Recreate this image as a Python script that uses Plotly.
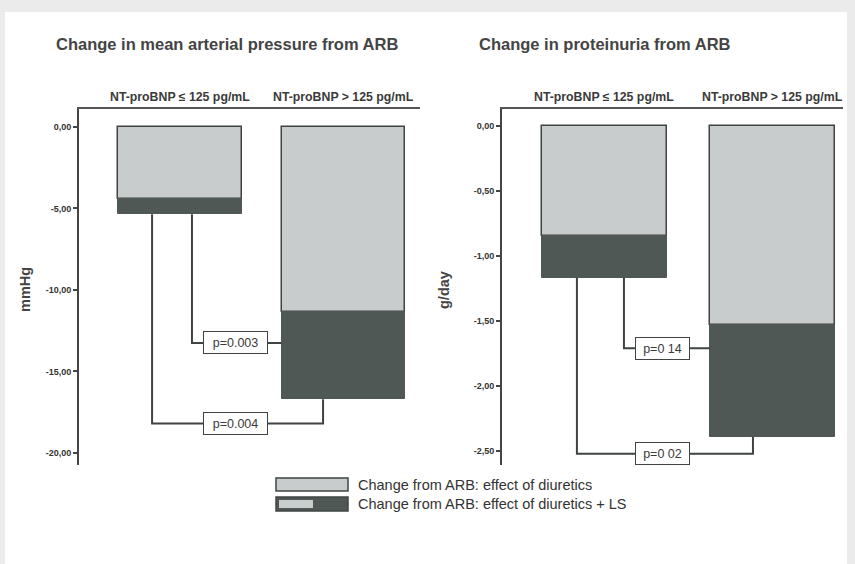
import plotly.graph_objects as go

# ---- data -------------------------------------------------------------
groups = ["NT-proBNP \u2264 125 pg/mL", "NT-proBNP > 125 pg/mL"]

# mean arterial pressure change (mmHg)
map_diuretics = [-4.40, -11.35]          # effect of diuretics
map_diuretics_ls = [-5.35, -16.70]       # effect of diuretics + LS
map_p = ["p=0.003", "p=0.004"]
map_bracket_levels = [-13.25, -18.20]
map_ticks = [0, -5, -10, -15, -20]
map_ticktext = ["0,00", "-5,00", "-10,00", "-15,00", "-20,00"]

# proteinuria change (g/day)
prot_diuretics = [-0.85, -1.53]
prot_diuretics_ls = [-1.17, -2.39]
prot_p = ["p=0 14", "p=0 02"]
prot_bracket_levels = [-1.71, -2.52]
prot_ticks = [0, -0.5, -1.0, -1.5, -2.0, -2.5]
prot_ticktext = ["0,00", "-0,50", "-1,00", "-1,50", "-2,00", "-2,50"]

legend_labels = ["Change from ARB: effect of diuretics",
                 "Change from ARB: effect of diuretics + LS"]

# ---- styling ----------------------------------------------------------
W, H = 855, 564
LIGHT = "#c9cccd"
DARK = "#4f5855"
EDGE = "#3f4443"
TXT = "#3a3a3a"
FONT = "Liberation Sans, Arial, sans-serif"
BAR_W = [0.758, 0.744]


def px(x):
    return x / W


def py(y):
    return 1 - y / H


fig = go.Figure()

panels = [
    dict(xa="x", ya="y", light=map_diuretics, total=map_diuretics_ls,
         p=map_p, lv=map_bracket_levels, bw=BAR_W[0],
         inner_x=0.073, outer_x=-0.171, box_x=0.339, end_x=0.875,
         box_w=59),
    dict(xa="x2", ya="y2", light=prot_diuretics, total=prot_diuretics_ls,
         p=prot_p, lv=prot_bracket_levels, bw=BAR_W[1],
         inner_x=0.116, outer_x=-0.164, box_x=0.345, end_x=0.884,
         box_w=49),
]

annotations = []
for pn in panels:
    xs = [0, 1]
    extra = [t - l for t, l in zip(pn["total"], pn["light"])]
    fig.add_trace(go.Bar(x=xs, y=pn["light"], width=pn["bw"],
                         marker=dict(color=LIGHT, line=dict(color=EDGE, width=1.5)),
                         xaxis=pn["xa"], yaxis=pn["ya"], showlegend=False,
                         hoverinfo="skip"))
    fig.add_trace(go.Bar(x=xs, y=extra, width=pn["bw"],
                         marker=dict(color=DARK, line=dict(color=DARK, width=1)),
                         xaxis=pn["xa"], yaxis=pn["ya"], showlegend=False,
                         hoverinfo="skip"))
    # significance brackets
    left_edge = 1 - pn["bw"] / 2
    t0, t1 = pn["total"]
    inner, outer = pn["lv"]
    fig.add_trace(go.Scatter(
        x=[pn["inner_x"], pn["inner_x"], left_edge],
        y=[t0, inner, inner], mode="lines",
        line=dict(color=EDGE, width=2), xaxis=pn["xa"], yaxis=pn["ya"],
        showlegend=False, hoverinfo="skip", cliponaxis=False))
    fig.add_trace(go.Scatter(
        x=[pn["outer_x"], pn["outer_x"], pn["end_x"], pn["end_x"]],
        y=[t0, outer, outer, t1], mode="lines",
        line=dict(color=EDGE, width=2), xaxis=pn["xa"], yaxis=pn["ya"],
        showlegend=False, hoverinfo="skip", cliponaxis=False))
    for lvl, txt in zip(pn["lv"], pn["p"]):
        annotations.append(dict(
            x=pn["box_x"], y=lvl, xref=pn["xa"], yref=pn["ya"], text=txt,
            showarrow=False, bgcolor="white", bordercolor=EDGE, borderwidth=1,
            borderpad=2, width=pn["box_w"], height=17,
            xanchor="center", yanchor="middle",
            font=dict(family=FONT, size=12.5, color=TXT)))
    for i, g in enumerate(groups):
        annotations.append(dict(
            x=i, y=py(97), xref=pn["xa"], yref="paper", text=g,
            xanchor="center", yanchor="middle", showarrow=False,
            font=dict(family=FONT, size=12.3, color=TXT, weight="bold")))

# titles
annotations.append(dict(x=px(54), y=py(44), xref="paper", yref="paper",
                        xanchor="left", yanchor="middle",
                        text="Change in mean arterial pressure from ARB",
                        showarrow=False,
                        font=dict(family=FONT, size=16.5, color="#444", weight="bold")))
annotations.append(dict(x=px(477), y=py(44), xref="paper", yref="paper",
                        xanchor="left", yanchor="middle",
                        text="Change in proteinuria from ARB",
                        showarrow=False,
                        font=dict(family=FONT, size=16.5, color="#444", weight="bold")))
# y-axis titles
annotations.append(dict(x=px(25), y=py(290), xref="paper", yref="paper",
                        xanchor="center", yanchor="middle",
                        text="mmHg", textangle=-90, showarrow=False,
                        font=dict(family=FONT, size=14.5, color="#444", weight="bold")))
annotations.append(dict(x=px(444), y=py(290), xref="paper", yref="paper",
                        xanchor="center", yanchor="middle",
                        text="g/day", textangle=-90, showarrow=False,
                        font=dict(family=FONT, size=14.5, color="#444", weight="bold")))

# legend entries
for i, lab in enumerate(legend_labels):
    annotations.append(dict(x=px(356), y=py(485 + 19 * i), xref="paper", yref="paper",
                            xanchor="left", yanchor="middle", text=lab, showarrow=False,
                            font=dict(family=FONT, size=14.5, color="#333")))

shapes = [
    # white page panel
    dict(type="rect", xref="paper", yref="paper", x0=px(5), x1=px(847),
         y0=0, y1=py(12), fillcolor="white", line=dict(width=0), layer="below"),
    # legend swatches
    dict(type="rect", xref="paper", yref="paper", x0=px(276), x1=px(348),
         y0=py(491), y1=py(478), fillcolor=LIGHT, line=dict(color=EDGE, width=1.5)),
    dict(type="rect", xref="paper", yref="paper", x0=px(276), x1=px(348),
         y0=py(511), y1=py(497), fillcolor=DARK, line=dict(color=EDGE, width=1.5)),
    dict(type="rect", xref="paper", yref="paper", x0=px(279), x1=px(313),
         y0=py(508), y1=py(500), fillcolor=LIGHT, line=dict(width=0)),
]

axis_common = dict(showgrid=False, zeroline=False)
xr = [[-0.618, 1.468], [-0.610, 1.420]]
yr = [[-20.74, 1.10], [-2.607, 0.13]]

fig.update_layout(
    width=W, height=H, margin=dict(l=0, r=0, t=0, b=0),
    paper_bgcolor="#ebebeb", plot_bgcolor="rgba(0,0,0,0)",
    barmode="relative", bargap=0, showlegend=False,
    font=dict(family=FONT, color=TXT),
    xaxis=dict(domain=[px(79), px(420)], range=xr[0], anchor="y", side="top",
               showline=True, linecolor="#555", linewidth=2, mirror=False,
               showticklabels=False, ticks="", **axis_common),
    yaxis=dict(domain=[py(465), py(109)], range=yr[0], anchor="x",
               showline=True, linecolor="#444", linewidth=2,
               tickvals=map_ticks, ticktext=map_ticktext, ticks="outside",
               ticklen=4, tickwidth=1.5, tickcolor="#444",
               tickfont=dict(family=FONT, size=9, color="#333", weight="bold"),
               **axis_common),
    xaxis2=dict(domain=[px(502), px(843)], range=xr[1], anchor="y2", side="top",
                showline=True, linecolor="#555", linewidth=2,
                showticklabels=False, ticks="", **axis_common),
    yaxis2=dict(domain=[py(465), py(109)], range=yr[1], anchor="x2",
                showline=True, linecolor="#444", linewidth=2,
                tickvals=prot_ticks, ticktext=prot_ticktext, ticks="outside",
                ticklen=4, tickwidth=1.5, tickcolor="#444",
                tickfont=dict(family=FONT, size=9, color="#333", weight="bold"),
                **axis_common),
    annotations=annotations, shapes=shapes,
)

fig.write_html("out.html")
